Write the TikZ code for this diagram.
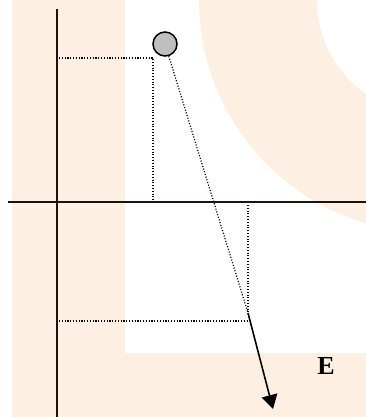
\documentclass[tikz,border=0pt]{standalone}
\usepackage{fontspec}
\setmainfont{Liberation Serif}
\usepackage{xcolor}
\usepackage{tikz}
\usetikzlibrary{positioning,arrows.meta,calc}

\definecolor{wmpeach}{RGB}{253,240,227}
\definecolor{axisink}{RGB}{28,18,10}

\tikzset{
    axis/.style={line width=1.6pt, axisink},
    dotline/.style={line width=1.2pt, dash pattern=on 1.1pt off 1.7pt},
    ball/.style={circle, draw, line width=1.5pt, fill=gray!50, minimum size=24pt, inner sep=0pt},
}

\begin{document}
\begin{tikzpicture}[x=1pt,y=1pt]
    \useasboundingbox (0,0) rectangle (366,417);

    % background logo
    \begin{scope}
        \clip (0,0) rectangle (366,417);
        \fill[wmpeach] (12,0) rectangle (125,417);
        \fill[wmpeach] (12,0) rectangle (366,64);
        \fill[wmpeach, even odd rule] (432,417) circle (233) (432,417) circle (115);
    \end{scope}

    % axes
    \coordinate (ytop) at (57,408);
    \coordinate (ybot) at (57,0);
    \coordinate (xleft) at (8,215);
    \coordinate (xright) at (366,215);
    \draw[axis] (ytop) -- (ybot);
    \draw[axis] (xleft) -- (xright);

    % charge and its projections
    \node[ball] (q) at (165,373) {};
    \coordinate (qy) at (59,359);
    \coordinate (qc) at (153,359);
    \coordinate (qx) at (153,216);
    \draw[dotline] (qy) -- (qc) -- (qx);

    % field vector
    \coordinate (estart) at (248,104);
    \coordinate (eend) at (273,8);
    \coordinate (ex) at (248,212);
    \coordinate (ey) at (59,96);
    \coordinate (ec) at (248,96);
    \draw[dotline] (q) -- (estart);
    \draw[dotline] (ex) -- (estart);
    \draw[dotline] (ey) -- (ec);
    \draw[-{Triangle[length=14pt,width=16pt]}, line width=1.6pt] (estart) -- (eend);
    \node[font=\fontsize{26}{30}\selectfont\bfseries] (elabel) at (326,51) {E};
\end{tikzpicture}
\end{document}
